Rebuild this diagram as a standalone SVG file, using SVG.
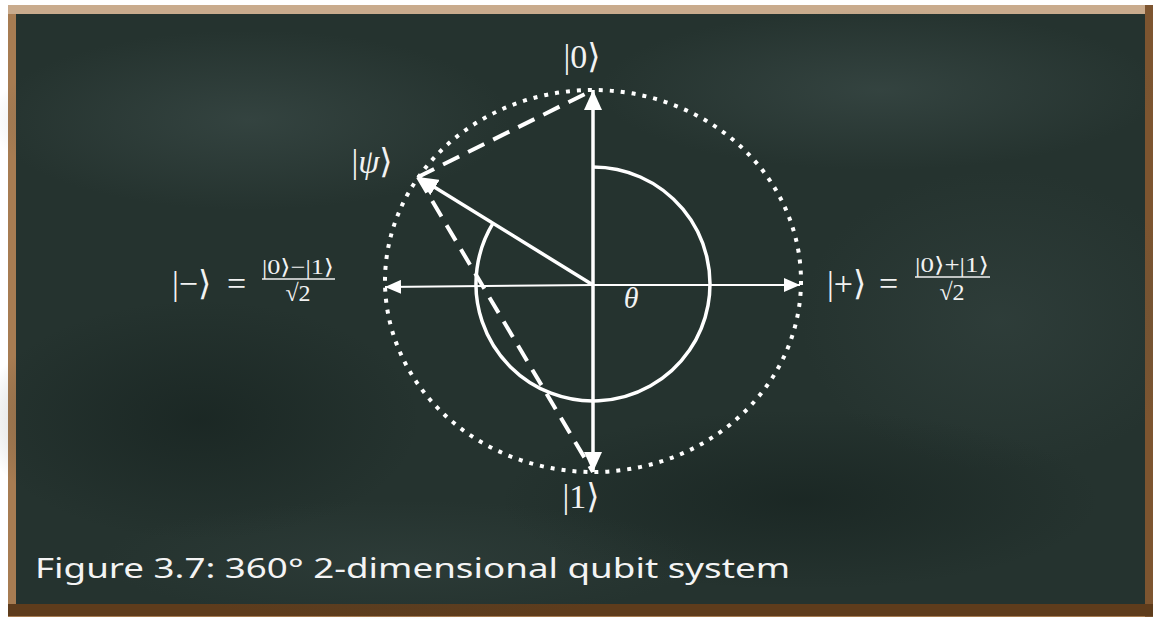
<svg xmlns="http://www.w3.org/2000/svg" width="1153" height="619" viewBox="0 0 1153 619">
<defs>
<style>
.math{font-family:"Liberation Serif","DejaVu Serif",serif;fill:#f2f2f2}
.it{font-style:italic}
.ax{stroke:#fff;fill:none}
.cap{font-family:"Noto Sans","Liberation Sans",sans-serif;fill:#f4f4f4;font-size:27px}
</style>
<radialGradient id="smA" cx="0.5" cy="0.5" r="0.5"><stop offset="0" stop-color="#3a4a47" stop-opacity="0.7"/><stop offset="1" stop-color="#3a4a47" stop-opacity="0"/></radialGradient>
<radialGradient id="smB" cx="0.5" cy="0.5" r="0.5"><stop offset="0" stop-color="#172320" stop-opacity="0.7"/><stop offset="1" stop-color="#172320" stop-opacity="0"/></radialGradient>
<marker id="ah" viewBox="0 0 20 18" refX="20" refY="9" markerWidth="20" markerHeight="18" markerUnits="userSpaceOnUse" orient="auto"><path d="M0 0 L20 9 L0 18 Z" fill="#fff"/></marker>
<marker id="ahs" viewBox="0 0 16 14" refX="16" refY="7" markerWidth="16" markerHeight="14" markerUnits="userSpaceOnUse" orient="auto"><path d="M0 0 L16 7 L0 14 Z" fill="#fff"/></marker>
</defs>
<rect width="1153" height="619" fill="#ffffff"/>
<!-- frame -->
<rect x="8" y="5" width="1145" height="612" fill="#a77c52"/>
<rect x="8" y="5" width="1145" height="9" fill="#c9ab8d"/>
<rect x="1145" y="5" width="8" height="612" fill="#7d5530"/>
<rect x="8" y="604" width="1145" height="12" fill="#5e3c1c"/>
<!-- board -->
<rect x="16" y="14" width="1129" height="590" fill="#25332f"/>
<ellipse cx="250" cy="120" rx="260" ry="90" fill="url(#smA)"/>
<ellipse cx="880" cy="90" rx="280" ry="80" fill="url(#smA)"/>
<ellipse cx="1000" cy="320" rx="200" ry="150" fill="url(#smA)" opacity="0.6"/>
<ellipse cx="200" cy="420" rx="220" ry="120" fill="url(#smB)"/>
<ellipse cx="800" cy="500" rx="300" ry="90" fill="url(#smB)"/>
<ellipse cx="400" cy="560" rx="300" ry="60" fill="url(#smA)" opacity="0.5"/>

<g id="connectors">
<ellipse id="bloch" cx="593" cy="281" rx="208" ry="191" class="ax" stroke-width="4" stroke-dasharray="4 7"/>
<path id="arc" d="M593 167 A117 117 0 1 1 493.2 222.9" class="ax" stroke-width="3.5"/>
<line x1="418" y1="177" x2="593" y2="90" class="ax" stroke-width="4" stroke-dasharray="18 10"/>
<line x1="418" y1="177" x2="593" y2="472" class="ax" stroke-width="4" stroke-dasharray="18 10"/>
<line x1="593" y1="285" x2="800" y2="285" class="ax" stroke-width="2" marker-end="url(#ahs)"/>
<line x1="593" y1="285" x2="385" y2="287" class="ax" stroke-width="2" marker-end="url(#ahs)"/>
<line x1="593" y1="285" x2="593" y2="90" class="ax" stroke-width="3.5" marker-end="url(#ah)"/>
<line x1="593" y1="285" x2="593" y2="472" class="ax" stroke-width="3.5" marker-end="url(#ah)"/>
<line x1="593" y1="285" x2="418" y2="177" class="ax" stroke-width="3.5" marker-end="url(#ah)"/>
</g>

<g id="ket0"><text class="math" x="582" y="68" font-size="34" text-anchor="middle">|0⟩</text></g>
<g id="ket1"><text class="math" x="581" y="508" font-size="34" text-anchor="middle">|1⟩</text></g>
<g id="psi"><text class="math" x="372" y="173" font-size="34" text-anchor="middle">|<tspan class="it">ψ</tspan>⟩</text></g>
<g id="theta"><text class="math it" x="631" y="308" font-size="30" text-anchor="middle">θ</text></g>

<g id="minus">
<text class="math" x="172" y="295" font-size="34">|−⟩</text>
<text class="math" x="227" y="295" font-size="34">=</text>
<text class="math" x="298" y="274" font-size="21" text-anchor="middle" textLength="72" lengthAdjust="spacingAndGlyphs">|0⟩−|1⟩</text>
<line x1="262" y1="279" x2="335" y2="279" stroke="#f2f2f2" stroke-width="1.3"/>
<text class="math" x="298" y="301" font-size="24" text-anchor="middle">√2</text>
</g>
<g id="plus">
<text class="math" x="827" y="295" font-size="34">|+⟩</text>
<text class="math" x="879" y="295" font-size="34">=</text>
<text class="math" x="952" y="272" font-size="21" text-anchor="middle" textLength="74" lengthAdjust="spacingAndGlyphs">|0⟩+|1⟩</text>
<line x1="915" y1="277" x2="990" y2="277" stroke="#f2f2f2" stroke-width="1.3"/>
<text class="math" x="952" y="300" font-size="24" text-anchor="middle">√2</text>
</g>

<g id="caption"><text class="cap" x="35" y="578" textLength="755" lengthAdjust="spacingAndGlyphs">Figure 3.7: 360° 2-dimensional qubit system</text></g>
</svg>
